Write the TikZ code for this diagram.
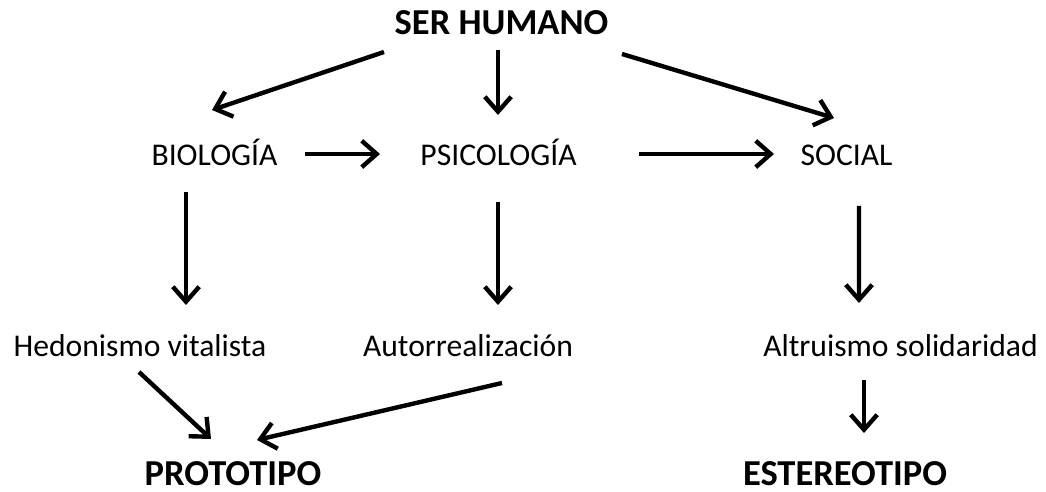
\documentclass[tikz,border=0pt]{standalone}
\usepackage{fontspec}
\setmainfont{Carlito}
\usetikzlibrary{arrows.meta}

\tikzset{
  lbl/.style={inner sep=0pt,anchor=base,font=\fontsize{18}{21}\selectfont},
  hdr/.style={inner sep=0pt,anchor=base,font=\fontsize{20.8}{24}\selectfont\bfseries},
  arr/.style={line width=2.5pt,-{Straight Barb[length=8.5pt,width=15pt]}}
}

\begin{document}
\begin{tikzpicture}[x=0.02cm,y=-0.02cm]
  \useasboundingbox (0,0) rectangle (1046,492);
  \node[hdr] (ser) at (501.5,35) {SER HUMANO};
  \node[lbl] (bio) at (214.5,166) {BIOLOGÍA};
  \node[lbl] (psi) at (498.5,166) {PSICOLOGÍA};
  \node[lbl] (soc) at (846.5,166) {SOCIAL};
  \node[lbl] (hed) at (140,357) {Hedonismo vitalista};
  \node[lbl] (aut) at (468,357) {Autorrealización};
  \node[lbl] (alt) at (900.5,357) {Altruismo solidaridad};
  \node[hdr] (pro) at (233,486) {PROTOTIPO};
  \node[hdr] (est) at (845,486) {ESTEREOTIPO};
  % top level
  \draw[arr] ([shift={(-117.5,17)}]ser.base) -- ([shift={(-2.5,-56)}]bio.base);
  \draw[arr] ([shift={(-3.5,15)}]ser.base) -- ([shift={(-0.5,-51)}]psi.base);
  \draw[arr] ([shift={(120.5,19)}]ser.base) -- ([shift={(-12.5,-48)}]soc.base);
  \draw[arr] ([shift={(90.5,-12)}]bio.base) -- ([shift={(-118.5,-12)}]psi.base);
  \draw[arr] ([shift={(140.5,-12)}]psi.base) -- ([shift={(-72.5,-12)}]soc.base);
  % down to the outcomes
  \draw[arr] ([shift={(-28.5,26)}]bio.base) -- ([shift={(46,-52)}]hed.base);
  \draw[arr] ([shift={(-0.5,36)}]psi.base) -- ([shift={(30,-52)}]aut.base);
  \draw[arr] ([shift={(12.5,40)}]soc.base) -- ([shift={(-41.5,-54)}]alt.base);
  \draw[arr] ([shift={(-1,15)}]hed.base) -- ([shift={(-22,-47)}]pro.base);
  \draw[arr] ([shift={(34,26)}]aut.base) -- ([shift={(24,-46)}]pro.base);
  \draw[arr] ([shift={(-36.5,23)}]alt.base) -- ([shift={(19,-53)}]est.base);
\end{tikzpicture}
\end{document}
